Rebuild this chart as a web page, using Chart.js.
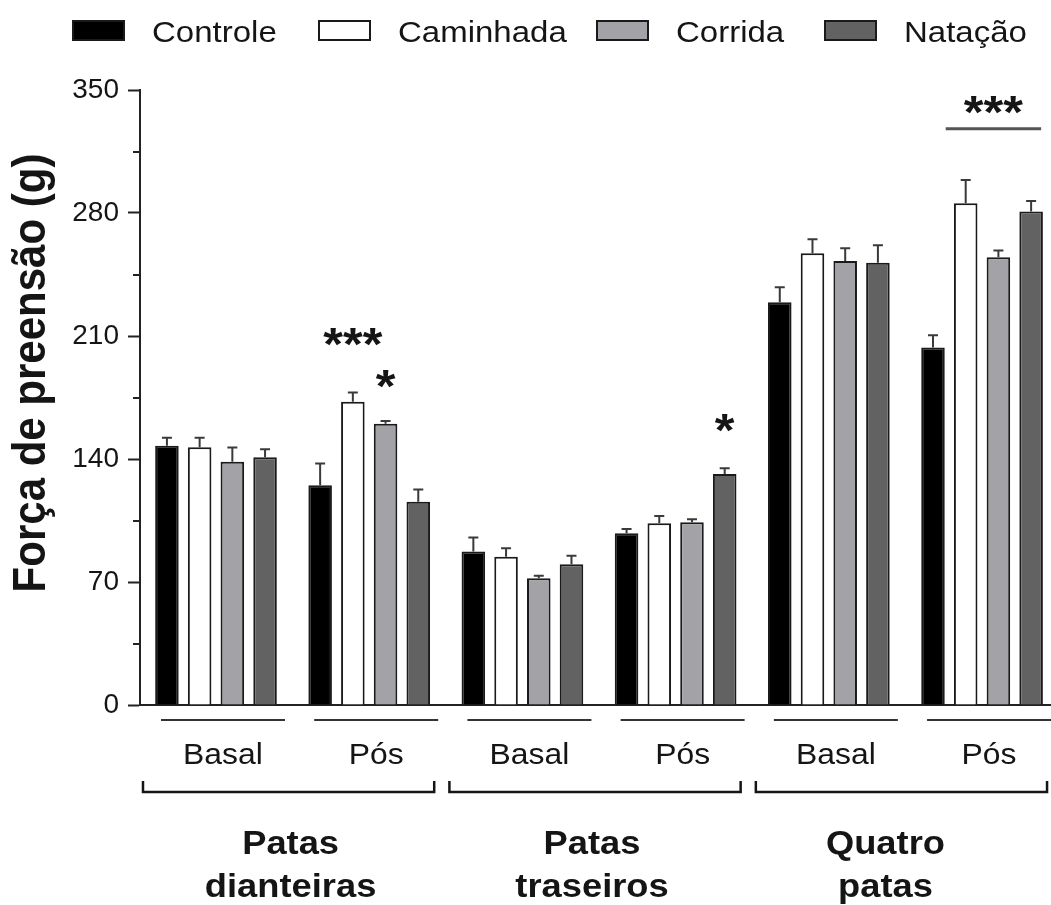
<!DOCTYPE html>
<html>
<head>
<meta charset="utf-8">
<script src="https://cdn.jsdelivr.net/npm/chart.js@4.4.0/dist/chart.umd.min.js"></script>
<style>
  body { margin: 0; background: #fff; }
  #wrap { width: 1051px; height: 905px; }
</style>
</head>
<body>
<div id="wrap"><canvas id="myChart" width="1051" height="905"></canvas></div>
<script>
// data
const groups = ['Basal', 'Pós', 'Basal', 'Pós', 'Basal', 'Pós']
const regions = [['Patas', 'dianteiras'], ['Patas', 'traseiros'], ['Quatro', 'patas']]
const seriesNames = ['Controle', 'Caminhada', 'Corrida', 'Natação']

const controle = [147.6, 125.0, 87.3, 97.7, 229.2, 203.4]
const caminhada = [146.7, 172.6, 84.4, 103.4, 257.1, 285.5]
const corrida = [138.5, 160.1, 72.1, 104.0, 252.7, 254.8]
const natacao = [141.0, 115.7, 80.1, 131.5, 251.7, 280.8]

const controleErr = [4.5, 12.5, 8.0, 2.5, 8.5, 7.0]
const caminhadaErr = [5.4, 5.3, 4.8, 4.2, 8.0, 13.3]
const corridaErr = [8.0, 1.5, 1.5, 1.7, 7.2, 3.8]
const natacaoErr = [4.5, 7.0, 4.9, 3.2, 10.0, 6.0]

const yTicks = [0, 70, 140, 210, 280, 350]
const yMinor = [35, 105, 175, 245, 315]

// significance marks: group index, series index, height in axis units
const stars = [
  { text: '***', group: 1, series: 1, at: 211 },
  { text: '*', group: 1, series: 2, at: 187 },
  { text: '*', group: 3, series: 3, at: 162 },
  { text: '***', group: 5, series: 1, to: 3, at: 343, line: 328 }
]

const values = [controle, caminhada, corrida, natacao]
const errors = [controleErr, caminhadaErr, corridaErr, natacaoErr]
const colors = ['#000000', '#ffffff', '#a3a3a7', '#626262']

const FONT = "'Liberation Sans', Arial, sans-serif"
const SX = 1.1   // the figure is a bit wider than tall
const INK = '#151515'
const legendX = [72, 318, 596, 824]
const regionNudge = [-2, -7, -20]

function wideText(ctx, txt, x, y, font, align) {
  ctx.save()
  ctx.font = font
  var w = ctx.measureText(txt).width * SX
  var x0 = align === 'center' ? x - w / 2 : (align === 'right' ? x - w : x)
  ctx.translate(x0, y)
  ctx.scale(SX, 1)
  ctx.textAlign = 'left'
  ctx.textBaseline = 'alphabetic'
  ctx.fillText(txt, 0, 0)
  ctx.restore()
}

const extras = {
  id: 'extras',
  afterDatasetsDraw(chart) {
    const ctx = chart.ctx
    const xs = chart.scales.x
    const ys = chart.scales.y
    ctx.save()
    ctx.fillStyle = INK
    ctx.strokeStyle = INK
    ctx.lineCap = 'butt'

    // error bars (upper only)
    ctx.strokeStyle = '#3a3a3a'
    ctx.lineWidth = 2
    errors.forEach(function(errs, d) {
      chart.getDatasetMeta(d).data.forEach(function(bar, i) {
        var top = ys.getPixelForValue(values[d][i] + errs[i])
        ctx.beginPath()
        ctx.moveTo(bar.x, bar.y)
        ctx.lineTo(bar.x, top)
        ctx.moveTo(bar.x - 5, top)
        ctx.lineTo(bar.x + 5, top)
        ctx.stroke()
      })
    })

    // minor ticks
    ctx.strokeStyle = '#222'
    ctx.lineWidth = 2
    yMinor.forEach(function(v) {
      var py = Math.round(ys.getPixelForValue(v))
      ctx.beginPath()
      ctx.moveTo(xs.left - 7, py)
      ctx.lineTo(xs.left, py)
      ctx.stroke()
    })

    // asterisks
    stars.forEach(function(s) {
      var cx = chart.getDatasetMeta(s.series).data[s.group].x
      if (s.to !== undefined) {
        var x1 = cx - 20
        var x2 = chart.getDatasetMeta(s.to).data[s.group].x + 10
        var ly = ys.getPixelForValue(s.line)
        ctx.strokeStyle = '#555'
        ctx.lineWidth = 3
        ctx.beginPath()
        ctx.moveTo(x1, ly)
        ctx.lineTo(x2, ly)
        ctx.stroke()
        cx = (x1 + x2) / 2
      }
      wideText(ctx, s.text, cx, ys.getPixelForValue(s.at) + 26, 'bold 46px ' + FONT, 'center')
    })

    // Basal / Pós labels with their lines
    ctx.strokeStyle = '#333'
    ctx.lineWidth = 2
    groups.forEach(function(g, i) {
      var cx = xs.getPixelForValue(i) + 7
      ctx.beginPath()
      ctx.moveTo(cx - 62, 720)
      ctx.lineTo(cx + 62, 720)
      ctx.stroke()
      wideText(ctx, g, cx, 764, '29px ' + FONT, 'center')
    })

    // brackets and region names
    ctx.strokeStyle = INK
    ctx.lineWidth = 2.5
    regions.forEach(function(lines, r) {
      var a = xs.getPixelForValue(2 * r)
      var b = xs.getPixelForValue(2 * r + 1)
      ctx.beginPath()
      ctx.moveTo(a - 73, 781)
      ctx.lineTo(a - 73, 792)
      ctx.lineTo(b + 65, 792)
      ctx.lineTo(b + 65, 781)
      ctx.stroke()
      var cx = (a + b) / 2 + regionNudge[r]
      lines.forEach(function(t, k) {
        wideText(ctx, t, cx, 854 + k * 43, 'bold 33px ' + FONT, 'center')
      })
    })

    // y axis title
    ctx.save()
    ctx.translate(32, 373)
    ctx.rotate(-Math.PI / 2)
    ctx.scale(1, SX)
    ctx.font = 'bold 42px ' + FONT
    ctx.textAlign = 'center'
    ctx.textBaseline = 'middle'
    ctx.fillText('Força de preensão (g)', 0, 0)
    ctx.restore()

    // legend
    seriesNames.forEach(function(name, d) {
      var bx = legendX[d]
      ctx.fillStyle = colors[d]
      ctx.fillRect(bx, 20, 53, 21)
      ctx.strokeStyle = '#1a1a1a'
      ctx.lineWidth = 2
      ctx.strokeRect(bx + 1, 21, 51, 19)
      ctx.fillStyle = INK
      wideText(ctx, name, bx + 80, 42, '30px ' + FONT, 'left')
    })
    ctx.restore()
  }
}

var ctx = document.getElementById('myChart').getContext('2d')
var chart = new Chart(ctx, {
  type: 'bar',
  data: {
    datasets: seriesNames.map(function(name, d) {
      return {
        label: name,
        data: values[d].map(function(v, i) { return { x: i, y: v } }),
        backgroundColor: colors[d],
        borderColor: '#1a1a1a',
        borderWidth: 2,
        categoryPercentage: 0.854,
        barPercentage: 0.72
      }
    })
  },
  options: {
    responsive: false,
    animation: false,
    devicePixelRatio: 1,
    layout: { padding: { top: 90, left: 0, right: 0, bottom: 0 } },
    plugins: { legend: { display: false }, tooltip: { enabled: false } },
    scales: {
      x: {
        type: 'linear',
        offset: false,
        min: -0.496,
        max: 5.45,
        afterBuildTicks: function(s) { s.ticks = groups.map(function(g, i) { return { value: i } }) },
        ticks: { display: false },
        grid: { display: true, drawOnChartArea: false, drawTicks: false },
        border: { display: true, color: '#222', width: 2 },
        afterFit: function(s) { s.height = 200 }
      },
      y: {
        min: 0,
        max: 350,
        afterBuildTicks: function(s) { s.ticks = yTicks.map(function(v) { return { value: v } }) },
        ticks: { color: INK, font: { family: FONT, size: 28 }, padding: 9 },
        grid: { drawOnChartArea: false, tickLength: 12, color: '#222', tickWidth: 2 },
        border: { display: true, color: '#222', width: 2 },
        afterFit: function(s) { s.width = 140 }
      }
    }
  },
  plugins: [extras]
})
</script>
</body>
</html>
